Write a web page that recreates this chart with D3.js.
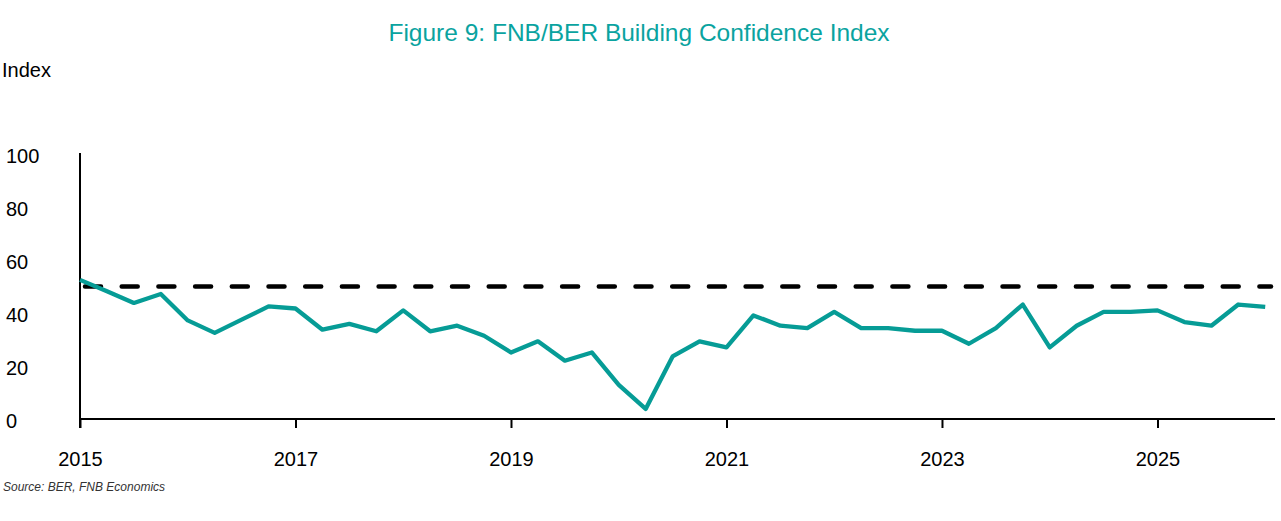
<!DOCTYPE html>
<html>
<head>
<meta charset="utf-8">
<script src="https://cdn.jsdelivr.net/npm/d3@7/dist/d3.min.js"></script>
<style>
  html, body { margin: 0; padding: 0; background: #fff; }
  svg { display: block; }
</style>
</head>
<body>
<svg id="chart" width="1281" height="521"></svg>
<script>
// ---- data ----
const startYear = 2015;           // first quarter (2015 Q1)
const values = [52.5, 48.2, 43.8, 47.2, 37.2, 32.5, 37.5, 42.5, 41.7, 33.7, 35.9, 33.1,
                41.0, 33.1, 35.2, 31.4, 25.1, 29.3, 22.0, 25.1, 12.9, 3.8, 23.6, 29.3,
                27.0, 39.1, 35.2, 34.3, 40.4, 34.3, 34.3, 33.3, 33.3, 28.4, 34.3, 43.2,
                27.0, 35.2, 40.4, 40.4, 41.0, 36.6, 35.2, 43.2, 42.3];
const neutral = 50;
const xTicks = [2015, 2017, 2019, 2021, 2023, 2025];
const yTicks = [0, 20, 40, 60, 80, 100];
const titleText = "Figure 9: FNB/BER Building Confidence Index";
const yLabel = "Index";
const sourceText = "Source: BER, FNB Economics";

const data = values.map((v, i) => ({ t: startYear + i * 0.25, v }));

// ---- layout ----
const svg = d3.select("#chart");
const teal = "#069c96";
const font = "Liberation Sans, Arial, Helvetica, sans-serif";

const x = d3.scaleLinear().domain([2015, 2026.1]).range([80, 1276]);
const y = d3.scaleLinear().domain([0, 100]).range([419, 154]);

// title
svg.append("text")
  .attr("x", 639).attr("y", 41)
  .attr("text-anchor", "middle")
  .attr("font-family", font).attr("font-size", 24.5)
  .attr("fill", "#0aa3a0")
  .text(titleText);

// y label
svg.append("text")
  .attr("x", 2).attr("y", 77)
  .attr("font-family", font).attr("font-size", 20)
  .attr("fill", "#000")
  .text(yLabel);

// x axis
const xAxis = svg.append("g")
  .attr("transform", `translate(0,${y(0)})`)
  .call(d3.axisBottom(x).tickValues(xTicks).tickFormat(d3.format("d"))
        .tickSizeInner(9).tickSizeOuter(0).tickPadding(24));
xAxis.select(".domain").attr("stroke", "#000").attr("stroke-width", 2)
  .attr("d", `M${x(2015)},0H1275`);
xAxis.selectAll(".tick line").attr("stroke", "#000").attr("stroke-width", 2);
xAxis.selectAll(".tick text")
  .attr("font-family", font).attr("font-size", 20).attr("fill", "#000");

// y axis
const yAxis = svg.append("g")
  .attr("transform", `translate(${x(2015)},0)`)
  .call(d3.axisLeft(y).tickValues(yTicks).tickSizeInner(0).tickSizeOuter(0));
yAxis.select(".domain").attr("stroke", "#000").attr("stroke-width", 2)
  .attr("d", `M0,${y(100) - 1}V${y(0) + 9}`);
yAxis.selectAll(".tick text")
  .attr("x", 6 - x(2015))
  .attr("dy", "0.4em")
  .attr("text-anchor", "start")
  .attr("font-family", font).attr("font-size", 20).attr("fill", "#000");

// neutral dashed line
svg.append("line")
  .attr("x1", x(2015) + 5).attr("x2", 1271)
  .attr("y1", y(neutral)).attr("y2", y(neutral))
  .attr("stroke", "#000").attr("stroke-width", 4.5)
  .attr("stroke-linecap", "round")
  .attr("stroke-dasharray", "16,20.7");

// series line
const line = d3.line().x(d => x(d.t)).y(d => y(d.v));
svg.append("path")
  .datum(data)
  .attr("d", line)
  .attr("fill", "none")
  .attr("stroke", teal)
  .attr("stroke-width", 4.3)
  .attr("stroke-linejoin", "round");

// source
svg.append("text")
  .attr("x", 3).attr("y", 491)
  .attr("font-family", "Liberation Sans Narrow, Arial Narrow, Liberation Sans, sans-serif")
  .attr("font-style", "italic")
  .attr("font-size", 12)
  .attr("fill", "#333")
  .text(sourceText);
</script>
</body>
</html>
